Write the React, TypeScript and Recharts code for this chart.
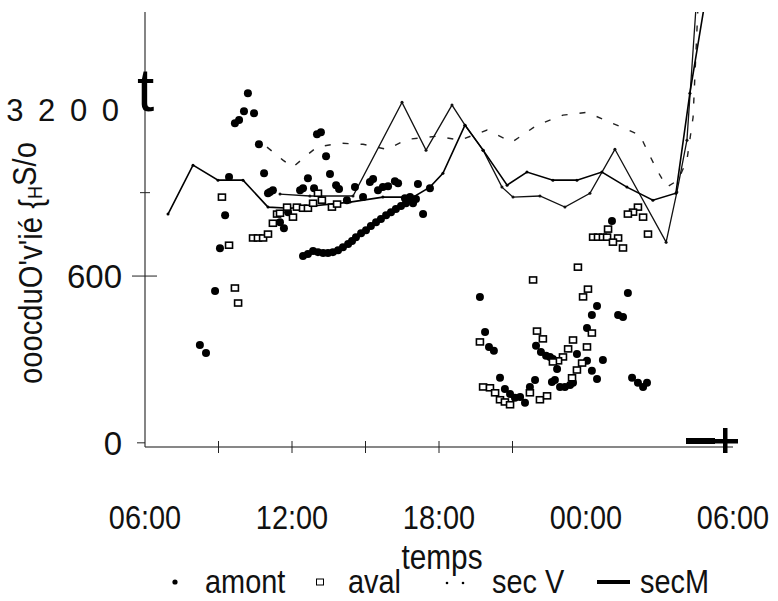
import { ComposedChart, Line, Scatter, XAxis, YAxis } from 'recharts';

// heures (6 = 06:00 du jour 1, 30 = 06:00 du lendemain)
const secMTime = [6.94, 7.96, 8.98, 10.0, 11.02, 11.92, 14.37, 15.71, 16.94, 17.63, 18.16, 19.06, 19.8, 20.78, 21.59, 22.65, 23.63, 24.65, 25.67, 26.73, 27.67, 28.24, 28.82, 29.06];
const secMValue = [823, 999, 945, 945, 848, 844, 866, 884, 884, 920, 970, 1143, 1053, 927, 974, 945, 945, 974, 920, 873, 898, 1258, 1567, 1771];

const sec2Time = [11.51, 12.73, 14.49, 16.49, 17.47, 18.53, 19.06, 19.8, 20.57, 21.02, 22.12, 23.14, 24.16, 25.18, 27.27, 27.71, 28.12, 28.49, 28.65];
const sec2Value = [895, 888, 888, 1225, 1053, 1215, 1143, 1053, 920, 884, 888, 848, 898, 1056, 722, 902, 1089, 1567, 1771];

const secVTime = [10.98, 11.63, 12.04, 12.61, 13.02, 13.96, 14.9, 15.88, 16.69, 17.92, 18.86, 19.96, 20.98, 22.0, 23.06, 24.04, 26.2, 26.53, 26.9, 27.3, 27.76, 28.12, 28.37, 28.57, 28.7];
const secVValue = [1064, 1017, 992, 1035, 1064, 1078, 1074, 1056, 1092, 1103, 1089, 1125, 1082, 1143, 1179, 1189, 1107, 1046, 981, 920, 945, 1017, 1171, 1567, 1771];

const amontTime = [
  10.2, 10.04, 10.45, 9.84, 9.67, 10.65, 9.43, 10.86, 11.02, 9.27, 9.06, 8.86, 8.24, 8.49,
  13.02, 13.18, 13.39, 12.65, 13.55, 11.22, 11.1, 12.33, 12.45, 12.9, 13.8, 13.92, 14.57, 15.18,
  15.31, 15.51, 15.71, 15.92, 16.2, 16.33, 17.14, 17.63, 17.35, 14.24, 14.9, 11.51, 11.67, 11.84,
  16.61, 16.82, 16.94,
  12.45, 12.65, 12.86, 13.06, 13.27, 13.47, 13.67, 13.88, 14.08, 14.29, 14.45, 14.61, 14.82, 15.02,
  15.22, 15.43, 15.63, 15.84, 16.04, 16.24, 16.45, 16.65, 16.86, 17.06,
  25.06, 19.67, 25.71, 24.45, 24.24, 25.31, 25.51, 19.88, 20.04, 20.24, 24.04, 21.96, 22.16, 22.37,
  22.53, 22.65, 22.82, 23.63, 24.04, 24.69, 24.24, 24.45, 20.49, 21.92, 22.61, 22.73, 22.94, 23.14,
  23.35, 23.47, 21.71, 20.69, 20.9, 21.1, 21.31, 21.51, 25.88, 26.12, 26.33, 26.49,
];
const amontValue = [
  1258, 1193, 1186, 1161, 1150, 1074, 956, 970, 898, 819, 700, 546, 352, 323,
  1110, 1117, 1031, 952, 967, 909, 902, 909, 916, 916, 927, 913, 920, 938,
  949, 909, 920, 923, 941, 934, 931, 916, 823, 873, 884, 794, 772, 830,
  880, 884, 862,
  672, 679, 690, 686, 683, 683, 686, 693, 704, 715, 726, 740, 754, 765,
  780, 794, 805, 819, 830, 841, 852, 862, 873, 877,
  798, 525, 539, 492, 460, 460, 453, 399, 345, 331, 413, 349, 327, 313,
  309, 302, 266, 320, 295, 298, 259, 230, 234, 226, 219, 226, 201, 201,
  208, 216, 201, 194, 176, 162, 165, 144, 234, 216, 201, 216,
];

const avalTime = [
  9.14, 9.43, 9.67, 9.8, 10.41, 10.61, 10.82, 11.02, 11.22, 11.39, 11.51, 11.8, 12.04, 12.2,
  12.45, 12.65, 12.86, 13.06, 13.22, 13.63, 13.84,
  26.12, 25.92, 25.71, 26.33, 24.9, 24.29, 24.49, 24.69, 24.86, 25.31, 25.1, 25.51, 26.53, 23.67,
  21.84, 24.08, 23.88, 24.24, 23.47, 24.04, 23.27, 22.0, 22.24, 19.67, 23.06, 22.86, 22.65, 23.84,
  23.63, 23.43, 19.8, 20.08, 20.29, 20.49, 20.69, 20.9, 22.12, 22.41, 21.71,
];
const avalValue = [
  884, 711, 557, 503, 737, 737, 737, 751, 790, 823, 826, 848, 812, 848,
  844, 844, 862, 898, 873, 848, 859,
  848, 830, 823, 812, 769, 740, 740, 740, 740, 737, 722, 701, 751, 632,
  586, 553, 525, 395, 370, 345, 338, 402, 374, 363, 309, 295, 291, 287,
  262, 234, 201, 198, 180, 155, 147, 137, 155, 169, 180,
];

const xTicks = [6, 9, 12, 15, 18, 21, 24, 27, 30];
const yTicks = [0, 600, 900, 1200];
const yLabels: Record<number, string> = { 0: '0', 600: '600', 1200: '3 2 0 0' };

const zip = (t: number[], v: number[]) => t.map((h, i) => ({ h, v: v[i] }));
const secMData = zip(secMTime, secMValue);
const sec2Data = zip(sec2Time, sec2Value);
const secVData = zip(secVTime, secVValue);
const amontData = zip(amontTime, amontValue);
const avalData = zip(avalTime, avalValue);

const SANS = "'Liberation Sans', Arial, sans-serif";

const fmtHour = (h: number) => `${String(h % 24).padStart(2, '0')}:00`;

// texte étroit (police condensée simulée)
const NText = ({ x, y, size, anchor = 'start', children }: any) => (
  <text transform={`translate(${x},${y}) scale(0.85,1)`} textAnchor={anchor}
    fontFamily={SANS} fontSize={size} fill="#111">
    {children}
  </text>
);

const XTick = ({ x, y, payload }: any) => {
  const h = payload.value;
  return (
    <g>
      {h >= 9 && h <= 21 && <line x1={x} x2={x} y1={y - 6} y2={y + 6} stroke="#222" strokeWidth={1} />}
      {h % 6 === 0 && <NText x={x} y={y + 82} size={34} anchor="middle">{fmtHour(h)}</NText>}
    </g>
  );
};

const YTick = ({ x, y, payload }: any) => {
  const v = payload.value;
  const label = yLabels[v];
  let x1 = x - 8, x2 = x;
  if (v === 600) { x1 = x - 13; x2 = x + 12; }
  if (v === 900) { x1 = x - 5; x2 = x + 5; }
  return (
    <g>
      {v !== 1200 && <line x1={x1} x2={x2} y1={y} y2={y} stroke="#222" strokeWidth={1} />}
      {label && (
        <text x={x - 23} y={y + 12} textAnchor="end" fontFamily={SANS} fontSize={v === 1200 ? 31 : 33}
          letterSpacing={v === 1200 ? 3 : 0} fill="#111">
          {label}
        </text>
      )}
    </g>
  );
};

const Dot = ({ cx, cy }: any) => <circle cx={cx} cy={cy} r={4} fill="#000" />;
const Square = ({ cx, cy }: any) => (
  <rect x={cx - 3.5} y={cy - 3} width={7} height={6} fill="#fff" stroke="#000" strokeWidth={1.6} />
);

export default function App() {
  return (
    <div style={{ position: 'absolute', left: 0, top: 0, width: 778, height: 601, background: '#fff' }}>
      <ComposedChart width={778} height={601} margin={{ top: 12, right: 45, left: 85, bottom: 124 }}>
        <XAxis dataKey="h" type="number" domain={[6, 30]} ticks={xTicks} interval={0}
          height={30} tickSize={0} tickMargin={0} tickLine={false}
          axisLine={{ stroke: '#111', strokeWidth: 1.2 }} tick={<XTick />} />
        <YAxis dataKey="v" type="number" domain={[-15, 1550]} ticks={yTicks} interval={0}
          allowDataOverflow width={60} tickSize={0} tickMargin={0} tickLine={false}
          axisLine={{ stroke: '#333', strokeWidth: 1.2 }} tick={<YTick />} />
        <Line data={secVData} dataKey="v" stroke="#222" strokeWidth={1.4} strokeDasharray="6 12"
          dot={false} isAnimationActive={false} />
        <Line data={sec2Data} dataKey="v" stroke="#111" strokeWidth={1.3}
          dot={{ r: 1.5, fill: '#111', stroke: 'none' }} isAnimationActive={false} />
        <Line data={secMData} dataKey="v" stroke="#000" strokeWidth={1.6}
          dot={{ r: 1.5, fill: '#000', stroke: 'none' }} isAnimationActive={false} />
        <Scatter data={amontData} dataKey="v" shape={<Dot />} isAnimationActive={false} />
        <Scatter data={avalData} dataKey="v" shape={<Square />} isAnimationActive={false} />
      </ComposedChart>
      <svg width={778} height={601} style={{ position: 'absolute', left: 0, top: 0, pointerEvents: 'none' }}>
        <text x={137} y={111} fontFamily={SANS} fontSize={62} fill="#000">t</text>
        <text transform="translate(42,384) rotate(-90) scale(0.86,1)" fontFamily={SANS} fontSize={34} fill="#111">
          ooocduO'v'ié {'{'}<tspan fontSize={21}>H</tspan><tspan dy={-6}>S/o</tspan>
        </text>
        {/* marque en bout d'axe */}
        <rect x={686} y={438} width={29} height={6} fill="#000" />
        <rect x={723} y={428} width={4.5} height={25} fill="#000" />
        <rect x={712} y={439} width={26} height={4.5} fill="#000" />
        <NText x={442} y={569} size={35} anchor="middle">temps</NText>
        {/* légende */}
        <circle cx={175} cy={582} r={2.6} fill="#000" />
        <NText x={205} y={593} size={34}>amont</NText>
        <rect x={316.5} y={579} width={7} height={6} fill="#fff" stroke="#000" strokeWidth={1} />
        <NText x={348} y={593} size={34}>aval</NText>
        <circle cx={447} cy={583} r={1.3} fill="#000" />
        <circle cx={463} cy={583} r={1.3} fill="#000" />
        <NText x={492} y={593} size={34}>sec V</NText>
        <rect x={597} y={580} width={33} height={4} fill="#000" />
        <NText x={640} y={593} size={34}>secM</NText>
      </svg>
    </div>
  );
}
